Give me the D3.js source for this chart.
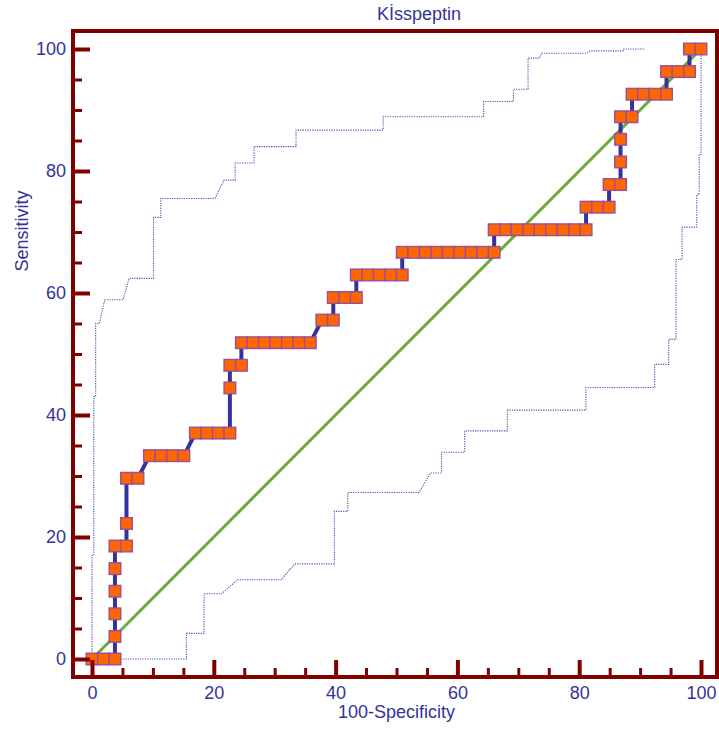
<!DOCTYPE html>
<html>
<head>
<meta charset="utf-8">
<script src="https://cdn.jsdelivr.net/npm/d3@7"></script>
<style>
  html, body { margin: 0; padding: 0; background: #ffffff; }
  svg { display: block; }
  text { font-family: "Liberation Sans", Arial, sans-serif; }
</style>
</head>
<body>
<svg id="chart" width="719" height="734"></svg>
<script>
// ---- data ----
const title = "Kİsspeptin";
const xLabel = "100-Specificity";
const yLabel = "Sensitivity";
const majorTicks = [0, 20, 40, 60, 80, 100];
const minorTicks = [5, 10, 15, 25, 30, 35, 45, 50, 55, 65, 70, 75, 85, 90, 95];

// ROC curve points: 100-Specificity (%) and Sensitivity (%)
const rocX = [0, 1.89, 3.77, 3.77, 3.77, 3.77, 3.77, 3.77, 5.66, 5.66, 5.66, 7.55,
  9.43, 11.32, 13.21, 15.09, 16.98, 18.87, 20.75, 22.64, 22.64, 22.64, 24.53, 24.53,
  26.42, 28.30, 30.19, 32.08, 33.96, 35.85, 37.74, 39.62, 39.62, 41.51, 43.40, 43.40,
  45.28, 47.17, 49.06, 50.94, 50.94, 52.83, 54.72, 56.60, 58.49, 60.38, 62.26, 64.15,
  66.04, 66.04, 67.92, 69.81, 71.70, 73.58, 75.47, 77.36, 79.25, 81.13, 81.13, 83.02,
  84.91, 84.91, 86.79, 86.79, 86.79, 86.79, 88.68, 88.68, 90.57, 92.45, 94.34, 94.34,
  96.23, 98.11, 98.11, 100];
const rocY = [0, 0, 0, 3.70, 7.41, 11.11, 14.81, 18.52, 18.52, 22.22, 29.63, 29.63,
  33.33, 33.33, 33.33, 33.33, 37.04, 37.04, 37.04, 37.04, 44.44, 48.15, 48.15, 51.85,
  51.85, 51.85, 51.85, 51.85, 51.85, 51.85, 55.56, 55.56, 59.26, 59.26, 59.26, 62.96,
  62.96, 62.96, 62.96, 62.96, 66.67, 66.67, 66.67, 66.67, 66.67, 66.67, 66.67, 66.67,
  66.67, 70.37, 70.37, 70.37, 70.37, 70.37, 70.37, 70.37, 70.37, 70.37, 74.07, 74.07,
  74.07, 77.78, 77.78, 81.48, 85.19, 88.89, 88.89, 92.59, 92.59, 92.59, 92.59, 96.30,
  96.30, 96.30, 100, 100];

// Upper 95% confidence bound
const upperX = [0, 0, 0.3, 0.3, 0.6, 0.6, 1.2, 2.1, 5.1, 6.1, 10.1, 10.1, 11.3, 11.3,
  20.2, 21.7, 23.5, 23.5, 26.6, 26.6, 33.5, 33.5, 47.8, 47.8, 64.3, 64.3, 69.2, 69.2,
  71.6, 71.6, 73.5, 73.8, 81.2, 81.8, 87.2, 87.2, 90.8];
const upperY = [0, 17.0, 17.0, 43.0, 43.0, 55.0, 55.0, 58.9, 58.9, 62.4, 62.4, 72.4,
  72.4, 75.5, 75.5, 78.5, 78.5, 81.3, 81.3, 84.0, 84.0, 86.7, 86.7, 88.9, 88.9, 91.4,
  91.4, 93.4, 93.4, 98.5, 98.5, 99.3, 99.3, 99.7, 99.7, 100, 100];

// Lower 95% confidence bound
const lowerX = [0, 15.5, 15.5, 18.4, 18.4, 21.3, 23.9, 31.1, 33.3, 39.8, 39.8, 42.0,
  42.0, 53.7, 55.6, 57.4, 57.4, 61.2, 61.2, 68.2, 68.2, 81.1, 81.1, 92.4, 92.4, 94.7,
  94.7, 95.9, 95.9, 96.9, 96.9, 99.3, 99.3, 99.7, 99.7, 100, 100];
const lowerY = [0, 0, 4.2, 4.2, 10.7, 10.7, 13.0, 13.0, 15.6, 15.6, 24.2, 24.2, 27.3,
  27.3, 30.5, 30.5, 33.9, 33.9, 37.4, 37.4, 40.8, 40.8, 44.5, 44.5, 48.3, 48.3, 52.4,
  52.4, 65.5, 65.5, 70.8, 70.8, 76.1, 76.1, 82.7, 82.7, 99.0];

const diagX = [0, 100];
const diagY = [0, 100];

// ---- drawing ----
const svg = d3.select("#chart");
const x = d3.scaleLinear().domain([0, 100]).range([92, 701]);
const y = d3.scaleLinear().domain([0, 100]).range([659, 49]);

const frame = { left: 73, top: 31, right: 717, bottom: 677 };
const dark = "#800000";
const blue = "#333399";

svg.append("rect").attr("width", 719).attr("height", 734).attr("fill", "#fff");

const zip = (xs, ys) => xs.map((v, i) => [v, ys[i]]);
const line = d3.line().x(d => x(d[0])).y(d => y(d[1]));

// confidence bands
[zip(upperX, upperY), zip(lowerX, lowerY)].forEach(pts => {
  svg.append("path").attr("d", line(pts))
    .attr("fill", "none").attr("stroke", "#4d4db3")
    .attr("stroke-width", 1.1).attr("stroke-dasharray", "1.2,1.2");
});

// reference diagonal
svg.append("path").attr("d", line(zip(diagX, diagY)))
  .attr("fill", "none").attr("stroke", "#6aab3e").attr("stroke-width", 3);

// ROC line
const roc = zip(rocX, rocY);
svg.append("path").attr("d", line(roc))
  .attr("fill", "none").attr("stroke", blue).attr("stroke-width", 4)
  .attr("stroke-linejoin", "round");

// markers
const ms = 11.6;
svg.append("g").selectAll("rect").data(roc).join("rect")
  .attr("x", d => x(d[0]) - ms / 2).attr("y", d => y(d[1]) - ms / 2)
  .attr("width", ms).attr("height", ms)
  .attr("fill", "#ff6600").attr("stroke", "#9b4f96").attr("stroke-width", 1.4);

// frame
svg.append("rect")
  .attr("x", frame.left).attr("y", frame.top)
  .attr("width", frame.right - frame.left).attr("height", frame.bottom - frame.top)
  .attr("fill", "none").attr("stroke", dark).attr("stroke-width", 4);

// axes
function styleAxis(g, w) {
  g.select(".domain").remove();
  g.selectAll(".tick line").attr("stroke", dark).attr("stroke-width", w);
  g.selectAll(".tick text").attr("fill", blue).attr("font-size", 18)
    .attr("font-family", "Liberation Sans, Arial, sans-serif");
}
const xMajor = svg.append("g").attr("transform", `translate(0,${frame.bottom})`)
  .call(d3.axisBottom(x).tickValues(majorTicks).tickSizeInner(-17).tickSizeOuter(0).tickPadding(9));
styleAxis(xMajor, 4);
const xMinor = svg.append("g").attr("transform", `translate(0,${frame.bottom})`)
  .call(d3.axisBottom(x).tickValues(minorTicks).tickSizeInner(-9).tickSizeOuter(0).tickFormat(""));
styleAxis(xMinor, 3);
const yMajor = svg.append("g").attr("transform", `translate(${frame.left},0)`)
  .call(d3.axisLeft(y).tickValues(majorTicks).tickSizeInner(-17).tickSizeOuter(0).tickPadding(7));
styleAxis(yMajor, 4);
const yMinor = svg.append("g").attr("transform", `translate(${frame.left},0)`)
  .call(d3.axisLeft(y).tickValues(minorTicks).tickSizeInner(-9).tickSizeOuter(0).tickFormat(""));
styleAxis(yMinor, 3);

// labels
svg.append("text").attr("x", 419).attr("y", 20).attr("text-anchor", "middle")
  .attr("fill", blue).attr("font-size", 18).text(title);
svg.append("text").attr("x", 396.5).attr("y", 718).attr("text-anchor", "middle")
  .attr("fill", blue).attr("font-size", 18).text(xLabel);
svg.append("text").attr("transform", "translate(27.5,231) rotate(-90)")
  .attr("text-anchor", "middle").attr("fill", blue).attr("font-size", 18).text(yLabel);
</script>
</body>
</html>
